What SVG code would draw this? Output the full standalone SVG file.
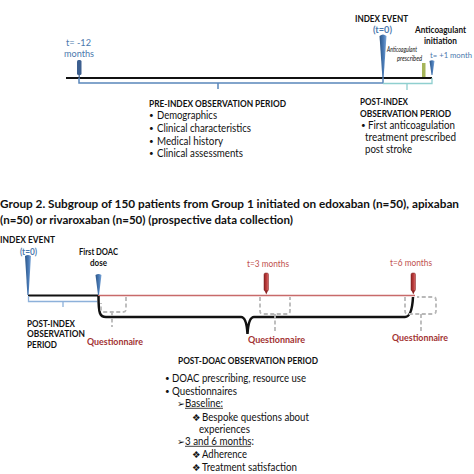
<svg xmlns="http://www.w3.org/2000/svg" width="474" height="474" viewBox="0 0 474 474">
<style>
.t{font-family:Lato,"Liberation Sans",sans-serif;font-size:10px;fill:#111}
.b{font-weight:bold}
.s{font-size:10.5px}
.bu{font-size:8px}
.blue{fill:#4a78ad}
.red{fill:#c0504d}
.dred{fill:#a23232}
.it{font-style:italic;font-size:7.5px}
.sym{font-family:"DejaVu Sans",sans-serif;font-size:9.5px}
.gd{fill:none;stroke:#b8b8b8;stroke-width:1.8;stroke-dasharray:4 2.5}
.ul{stroke:#111;stroke-width:0.8}
</style>
<defs>
<linearGradient id="bw" x1="0" x2="1" y1="0" y2="0">
<stop offset="0" stop-color="#2b5586"/><stop offset="0.6" stop-color="#4b7cb8"/><stop offset="1" stop-color="#7ea8d8"/>
</linearGradient>
<linearGradient id="rw" x1="0" x2="1" y1="0" y2="0">
<stop offset="0" stop-color="#8e2424"/><stop offset="0.6" stop-color="#c04040"/><stop offset="1" stop-color="#d87070"/>
</linearGradient>
</defs>
<rect width="474" height="474" fill="#fff"/>

<g id="connectors">
<line x1="66" y1="78" x2="432" y2="78" stroke="#111" stroke-width="2"/>
<path d="M79,78 V83 H383 V78 M218,83 V89" fill="none" stroke="#5a86bb" stroke-width="1.5"/>
<path d="M383,83.5 H432 V78 M407,83.5 V90" fill="none" stroke="#8fcfcf" stroke-width="1.3"/>
<line x1="28" y1="295.5" x2="98" y2="295.5" stroke="#111" stroke-width="2"/>
<line x1="98" y1="295.5" x2="415" y2="295.5" stroke="#c86a6a" stroke-width="1.5"/>
<path d="M28.5,296 V301.5 H97 M63,301.5 V307" fill="none" stroke="#8db1da" stroke-width="1.3"/>
<path d="M98.5,296 C98.5,314 100,317 106,317 L241,317 Q246.5,317 247.5,334 Q248.5,317 254,317 L405,317 Q412,317 413,297" fill="none" stroke="#111" stroke-width="2.5"/>
<path class="gd" d="M126,297 V309 Q126,312 123,312 H104 Q101,312 101,309 V303 M112,312 V327"/>
<path class="gd" d="M260,297 V311 Q260,314 263,314 H287 Q290,314 290,311 V297 M275,314 V331"/>
<path class="gd" d="M405,297 V311 Q405,314 408,314 H433 Q436,314 436,311 V300 Q436,297 433,297 H417 M421,314 V331"/>
</g>

<g id="node-t-12">
<rect x="77" y="60" width="4.5" height="15" rx="1.5" fill="#3c5f8f"/>
<line x1="79.2" y1="75" x2="79.2" y2="78" stroke="#3c5f8f" stroke-width="1.2"/>
<text class="t blue" style="font-size:9.5px" x="66" y="45.5" textLength="25" lengthAdjust="spacingAndGlyphs">t= -12</text>
<text class="t blue" style="font-size:9.5px" x="64" y="56.5" textLength="30" lengthAdjust="spacingAndGlyphs">months</text>
</g>

<g id="node-index-top">
<path d="M379.5,36 Q383,33 386.5,36 L383.6,78 L382.4,78 Z" fill="url(#bw)"/>
<text class="t b" x="355" y="22" textLength="53" lengthAdjust="spacingAndGlyphs">INDEX EVENT</text>
<text class="t b blue" x="373" y="33" textLength="19" lengthAdjust="spacingAndGlyphs">(t=0)</text>
</g>

<g id="node-prescribed">
<rect x="422" y="63" width="3.5" height="14" fill="#a6b55a"/>
<text class="t it" x="387" y="51.5" textLength="30" lengthAdjust="spacingAndGlyphs">Anticoagulant</text>
<text class="t it" x="397" y="60.5" textLength="25" lengthAdjust="spacingAndGlyphs">prescribed</text>
</g>

<g id="node-initiation">
<path d="M429.5,61 Q432,59.5 434.5,61 L432.5,75 L431.5,75 Z" fill="url(#bw)"/>
<text class="t b" style="font-size:9.5px" x="415" y="33" textLength="51" lengthAdjust="spacingAndGlyphs">Anticoagulant</text>
<text class="t b" style="font-size:9.5px" x="424" y="43.5" textLength="33" lengthAdjust="spacingAndGlyphs">initiation</text>
<text class="t blue" style="font-size:8px" x="430" y="57.5" textLength="42" lengthAdjust="spacingAndGlyphs">t= +1 month</text>
</g>

<g id="node-preindex-period">
<text class="t b" x="149" y="106.5" textLength="137" lengthAdjust="spacingAndGlyphs">PRE-INDEX OBSERVATION PERIOD</text>
<text class="t bu" x="149" y="118">•</text><text class="t s" x="157" y="118.5" textLength="60" lengthAdjust="spacingAndGlyphs">Demographics</text>
<text class="t bu" x="149" y="131">•</text><text class="t s" x="157" y="131.5" textLength="94" lengthAdjust="spacingAndGlyphs">Clinical characteristics</text>
<text class="t bu" x="149" y="144">•</text><text class="t s" x="157" y="144.5" textLength="66" lengthAdjust="spacingAndGlyphs">Medical history</text>
<text class="t bu" x="149" y="156">•</text><text class="t s" x="157" y="156.5" textLength="86" lengthAdjust="spacingAndGlyphs">Clinical assessments</text>
</g>

<g id="node-postindex-top">
<text class="t b" x="360" y="104.5" textLength="48" lengthAdjust="spacingAndGlyphs">POST-INDEX</text>
<text class="t b" x="360" y="116.5" textLength="91" lengthAdjust="spacingAndGlyphs">OBSERVATION PERIOD</text>
<text class="t bu" x="361" y="128">•</text><text class="t s" x="368" y="128.5" textLength="87" lengthAdjust="spacingAndGlyphs">First anticoagulation</text>
<text class="t s" x="365" y="140.5" textLength="91" lengthAdjust="spacingAndGlyphs">treatment prescribed</text>
<text class="t s" x="365" y="152.5" textLength="47" lengthAdjust="spacingAndGlyphs">post stroke</text>
</g>

<g id="title-group2">
<text class="t b" style="font-size:11.5px" x="0" y="208" textLength="459" lengthAdjust="spacingAndGlyphs">Group 2. Subgroup of 150 patients from Group 1 initiated on edoxaban (n=50), apixaban</text>
<text class="t b" style="font-size:11.5px" x="0" y="224" textLength="293" lengthAdjust="spacingAndGlyphs">(n=50) or rivaroxaban (n=50) (prospective data collection)</text>
</g>

<g id="node-index-bottom">
<path d="M25,256 Q28,254 31,256 L28.6,295 L27.4,295 Z" fill="url(#bw)"/>
<text class="t b" x="0" y="242.5" textLength="55" lengthAdjust="spacingAndGlyphs">INDEX EVENT</text>
<text class="t b blue" x="20" y="254.5" textLength="17" lengthAdjust="spacingAndGlyphs">(t=0)</text>
</g>

<g id="node-doac">
<path d="M95.5,275 Q98.5,273 101.5,275 L99,295 L98,295 Z" fill="url(#bw)"/>
<text class="t b" style="font-size:9.5px" x="79" y="255" textLength="39" lengthAdjust="spacingAndGlyphs">First DOAC</text>
<text class="t b" style="font-size:9.5px" x="90" y="265.5" textLength="17" lengthAdjust="spacingAndGlyphs">dose</text>
</g>

<g id="node-t3">
<rect x="264" y="273" width="4.5" height="18" rx="1.5" fill="url(#rw)" stroke="#7d1f1f" stroke-width="0.5"/>
<path d="M264.5,290.5 L266.25,294.5 L268,290.5 Z" fill="#8e2424"/>
<text class="t red" style="font-size:9px" x="247" y="267" textLength="42" lengthAdjust="spacingAndGlyphs">t=3 months</text>
</g>

<g id="node-t6">
<rect x="411" y="273" width="4.5" height="18" rx="1.5" fill="url(#rw)" stroke="#7d1f1f" stroke-width="0.5"/>
<path d="M411.5,290.5 L413.25,294.5 L415,290.5 Z" fill="#8e2424"/>
<text class="t red" style="font-size:9px" x="390" y="266" textLength="42" lengthAdjust="spacingAndGlyphs">t=6 months</text>
</g>

<g id="node-postindex-bottom">
<text class="t b" x="27" y="326.5" textLength="48" lengthAdjust="spacingAndGlyphs">POST-INDEX</text>
<text class="t b" x="27" y="337" textLength="58" lengthAdjust="spacingAndGlyphs">OBSERVATION</text>
<text class="t b" x="27" y="347.5" textLength="30" lengthAdjust="spacingAndGlyphs">PERIOD</text>
</g>

<g id="node-questionnaires">
<text class="t b dred" x="87" y="345" textLength="56" lengthAdjust="spacingAndGlyphs">Questionnaire</text>
<text class="t b dred" x="248" y="343" textLength="57" lengthAdjust="spacingAndGlyphs">Questionnaire</text>
<text class="t b dred" x="392" y="341" textLength="56" lengthAdjust="spacingAndGlyphs">Questionnaire</text>
</g>

<g id="node-postdoac-period">
<text class="t b" x="178" y="363.5" textLength="140" lengthAdjust="spacingAndGlyphs">POST-DOAC OBSERVATION PERIOD</text>
<text class="t bu" x="165" y="381">•</text><text class="t s" x="172" y="381.5" textLength="134" lengthAdjust="spacingAndGlyphs">DOAC prescribing, resource use</text>
<text class="t bu" x="165" y="394">•</text><text class="t s" x="172" y="394.5" textLength="65" lengthAdjust="spacingAndGlyphs">Questionnaires</text>
<text class="t sym" x="177" y="406.5">➢</text><text class="t s" x="185" y="406.5" textLength="38" lengthAdjust="spacingAndGlyphs">Baseline:</text>
<line class="ul" x1="185" y1="408.3" x2="223" y2="408.3"/>
<text class="t sym" x="192" y="420.5">❖</text><text class="t s" x="202" y="420.5" textLength="107" lengthAdjust="spacingAndGlyphs">Bespoke questions about</text>
<text class="t s" x="199" y="432.5" textLength="51" lengthAdjust="spacingAndGlyphs">experiences</text>
<text class="t sym" x="177" y="444.5">➢</text><text class="t s" x="185" y="444.5" textLength="69" lengthAdjust="spacingAndGlyphs">3 and 6 months:</text>
<line class="ul" x1="185" y1="446.3" x2="251" y2="446.3"/>
<text class="t sym" x="192" y="457.5">❖</text><text class="t s" x="202" y="457.5" textLength="45" lengthAdjust="spacingAndGlyphs">Adherence</text>
<text class="t sym" x="192" y="470.5">❖</text><text class="t s" x="202" y="470.5" textLength="95" lengthAdjust="spacingAndGlyphs">Treatment satisfaction</text>
</g>
</svg>
